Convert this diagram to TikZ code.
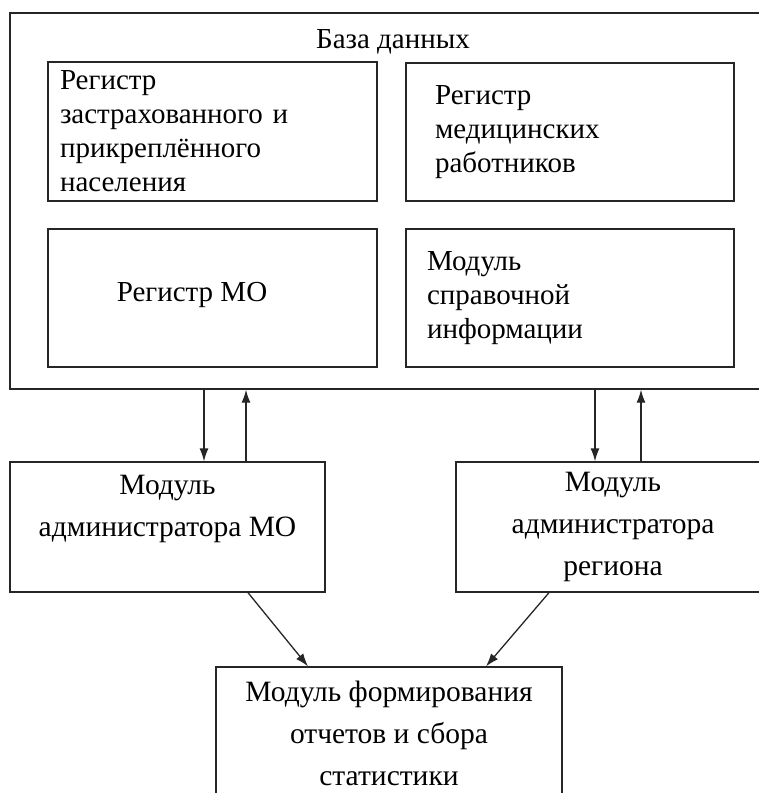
\documentclass[tikz,border=0pt]{standalone}
\usepackage{fontspec}
\setmainfont{Liberation Serif}
\usetikzlibrary{arrows.meta}
\begin{document}
\begin{tikzpicture}[x=1pt, y=1pt]
        \tikzset{>={Latex[length=13pt,width=9pt]}}
        \tikzset{
            block/.style={draw=black!85, line width=1.3pt, inner ysep=0pt,
                font=\fontsize{29}{34}\selectfont},
            lowblock/.style={block, align=center, font=\fontsize{29.5}{42}\selectfont},
            link/.style={->, line width=1.3pt, black!85}
        }
        \useasboundingbox (0,0) rectangle (759,-793);
        \clip (0,0) rectangle (759,-793);
        % database frame
        \node[block, minimum width=760pt, minimum height=376pt] (db) at (390,-201) {};
        \node[font=\fontsize{29}{34}\selectfont] (dbtitle) at (393,-42) {База данных};
        % registers inside the database
        \node[block, minimum width=329pt, minimum height=139pt, text width=305pt,
            inner xsep=12pt, align=left] (regpop) at (212.5,-131.5)
            {Регистр\\застрахованного и\\прикреплённого\\населения};
        \node[block, minimum width=328pt, minimum height=138pt, text width=270pt,
            inner xsep=29pt, align=left] (regmed) at (570,-132)
            {Регистр\\медицинских\\работников};
        \node[block, minimum width=329pt, minimum height=138pt] (regmo) at (212.5,-298) {};
        \node[font=\fontsize{29}{34}\selectfont] (regmotext) at (192,-295) {Регистр МО};
        \node[block, minimum width=328pt, minimum height=138pt, text width=286pt,
            inner xsep=21pt, align=left] (refinfo) at (570,-298)
            {Модуль\\справочной\\информации};
        % modules
        \node[lowblock, minimum width=315pt, minimum height=130pt] (admmo) at (167.5,-527)
            {Модуль\\администратора МО\\\mbox{}};
        \node[lowblock, minimum width=314pt, minimum height=130pt] (admreg) at (613,-527)
            {Модуль\\администратора\\региона};
        \node[lowblock, minimum width=346pt, minimum height=133pt] (rep) at (389,-733.5)
            {Модуль формирования\\отчетов и сбора\\статистики};
        % connections
        \draw[link] ([xshift=36.5pt]admmo.north |- db.south) -- ([xshift=36.5pt]admmo.north);
        \draw[link] ([xshift=78.5pt]admmo.north) -- ([xshift=78.5pt]admmo.north |- db.south);
        \draw[link] ([xshift=-18pt]admreg.north |- db.south) -- ([xshift=-18pt]admreg.north);
        \draw[link] ([xshift=28pt]admreg.north) -- ([xshift=28pt]admreg.north |- db.south);
        \draw[link] ([xshift=80.5pt]admmo.south) -- ([xshift=-81pt]rep.north);
        \draw[link] ([xshift=-64pt]admreg.south) -- ([xshift=97pt]rep.north);
    \end{tikzpicture}
\end{document}
